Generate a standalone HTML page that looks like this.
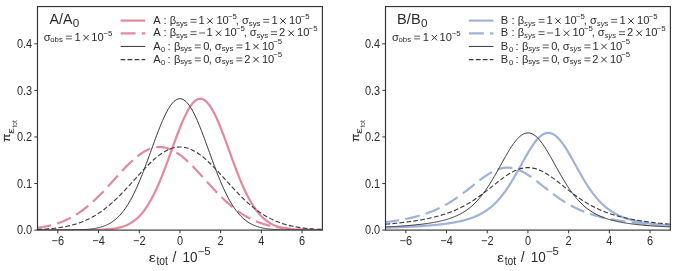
<!DOCTYPE html>
<html><head><meta charset="utf-8"><title>chart</title>
<style>html,body{margin:0;padding:0;background:#fff;overflow:hidden}body{width:677px;height:271px;font-family:"Liberation Sans",sans-serif}</style></head>
<body>
<svg width="677" height="271" viewBox="0 0 677 271" style="display:block" font-family="'Liberation Sans', sans-serif">
<rect width="677" height="271" fill="#ffffff"/>
<g style="mix-blend-mode:multiply"><rect width="1" height="1" fill="#ffffff"/></g>
<clipPath id="cp0"><rect x="37.5" y="6.55" width="284.9" height="223.54999999999998"/></clipPath>
<g clip-path="url(#cp0)" fill="none" stroke-linejoin="round">
<path d="M37.50,230.10 L38.52,230.10 L39.53,230.10 L40.55,230.10 L41.57,230.10 L42.59,230.10 L43.60,230.10 L44.62,230.10 L45.64,230.10 L46.66,230.10 L47.67,230.10 L48.69,230.10 L49.71,230.10 L50.73,230.10 L51.75,230.10 L52.76,230.10 L53.78,230.10 L54.80,230.10 L55.82,230.10 L56.83,230.10 L57.85,230.10 L58.87,230.10 L59.88,230.10 L60.90,230.10 L61.92,230.10 L62.94,230.10 L63.95,230.10 L64.97,230.10 L65.99,230.10 L67.01,230.10 L68.03,230.10 L69.04,230.10 L70.06,230.10 L71.08,230.09 L72.09,230.09 L73.11,230.09 L74.13,230.09 L75.15,230.09 L76.17,230.09 L77.18,230.09 L78.20,230.08 L79.22,230.08 L80.23,230.08 L81.25,230.07 L82.27,230.07 L83.29,230.07 L84.31,230.06 L85.32,230.06 L86.34,230.05 L87.36,230.04 L88.38,230.03 L89.39,230.02 L90.41,230.01 L91.43,230.00 L92.44,229.98 L93.46,229.97 L94.48,229.95 L95.50,229.93 L96.52,229.90 L97.53,229.88 L98.55,229.85 L99.57,229.81 L100.58,229.78 L101.60,229.73 L102.62,229.69 L103.64,229.63 L104.66,229.58 L105.67,229.51 L106.69,229.44 L107.71,229.36 L108.72,229.27 L109.74,229.17 L110.76,229.06 L111.78,228.94 L112.80,228.81 L113.81,228.66 L114.83,228.50 L115.85,228.33 L116.86,228.13 L117.88,227.92 L118.90,227.69 L119.92,227.44 L120.94,227.17 L121.95,226.87 L122.97,226.55 L123.99,226.19 L125.00,225.81 L126.02,225.40 L127.04,224.95 L128.06,224.47 L129.07,223.96 L130.09,223.40 L131.11,222.80 L132.13,222.16 L133.14,221.47 L134.16,220.73 L135.18,219.94 L136.20,219.10 L137.22,218.21 L138.23,217.26 L139.25,216.25 L140.27,215.18 L141.28,214.05 L142.30,212.86 L143.32,211.59 L144.34,210.26 L145.36,208.87 L146.37,207.40 L147.39,205.86 L148.41,204.25 L149.42,202.56 L150.44,200.80 L151.46,198.97 L152.48,197.07 L153.50,195.09 L154.51,193.04 L155.53,190.92 L156.55,188.73 L157.56,186.48 L158.58,184.15 L159.60,181.77 L160.62,179.32 L161.63,176.82 L162.65,174.26 L163.67,171.65 L164.69,169.00 L165.71,166.31 L166.72,163.58 L167.74,160.82 L168.76,158.04 L169.77,155.24 L170.79,152.43 L171.81,149.61 L172.83,146.80 L173.84,143.99 L174.86,141.20 L175.88,138.44 L176.90,135.71 L177.91,133.01 L178.93,130.37 L179.95,127.78 L180.97,125.26 L181.98,122.80 L183.00,120.43 L184.02,118.15 L185.04,115.96 L186.06,113.87 L187.07,111.89 L188.09,110.03 L189.11,108.29 L190.12,106.68 L191.14,105.21 L192.16,103.87 L193.18,102.68 L194.19,101.64 L195.21,100.76 L196.23,100.03 L197.25,99.46 L198.26,99.05 L199.28,98.80 L200.30,98.72 L201.32,98.80 L202.33,99.05 L203.35,99.46 L204.37,100.03 L205.39,100.76 L206.41,101.64 L207.42,102.68 L208.44,103.87 L209.46,105.21 L210.47,106.68 L211.49,108.29 L212.51,110.03 L213.53,111.89 L214.55,113.87 L215.56,115.96 L216.58,118.15 L217.60,120.43 L218.61,122.80 L219.63,125.26 L220.65,127.78 L221.67,130.37 L222.68,133.01 L223.70,135.71 L224.72,138.44 L225.74,141.20 L226.75,143.99 L227.77,146.80 L228.79,149.61 L229.81,152.43 L230.82,155.24 L231.84,158.04 L232.86,160.82 L233.88,163.58 L234.90,166.31 L235.91,169.00 L236.93,171.65 L237.95,174.26 L238.96,176.82 L239.98,179.32 L241.00,181.77 L242.02,184.15 L243.03,186.48 L244.05,188.73 L245.07,190.92 L246.09,193.04 L247.10,195.09 L248.12,197.07 L249.14,198.97 L250.16,200.80 L251.17,202.56 L252.19,204.25 L253.21,205.86 L254.23,207.40 L255.25,208.87 L256.26,210.26 L257.28,211.59 L258.30,212.86 L259.31,214.05 L260.33,215.18 L261.35,216.25 L262.37,217.26 L263.38,218.21 L264.40,219.10 L265.42,219.94 L266.44,220.73 L267.45,221.47 L268.47,222.16 L269.49,222.80 L270.51,223.40 L271.52,223.96 L272.54,224.47 L273.56,224.95 L274.58,225.40 L275.60,225.81 L276.61,226.19 L277.63,226.55 L278.65,226.87 L279.66,227.17 L280.68,227.44 L281.70,227.69 L282.72,227.92 L283.74,228.13 L284.75,228.33 L285.77,228.50 L286.79,228.66 L287.80,228.81 L288.82,228.94 L289.84,229.06 L290.86,229.17 L291.88,229.27 L292.89,229.36 L293.91,229.44 L294.93,229.51 L295.94,229.58 L296.96,229.63 L297.98,229.69 L299.00,229.73 L300.01,229.78 L301.03,229.81 L302.05,229.85 L303.07,229.88 L304.08,229.90 L305.10,229.93 L306.12,229.95 L307.14,229.97 L308.15,229.98 L309.17,230.00 L310.19,230.01 L311.21,230.02 L312.22,230.03 L313.24,230.04 L314.26,230.05 L315.28,230.06 L316.30,230.06 L317.31,230.07 L318.33,230.07 L319.35,230.07 L320.36,230.08 L321.38,230.08 L322.40,230.08" stroke="#E28A9C" stroke-width="2.2"/>
<path d="M37.50,227.83 L38.52,227.69 L39.53,227.54 L40.55,227.39 L41.57,227.23 L42.59,227.05 L43.60,226.87 L44.62,226.69 L45.64,226.49 L46.66,226.28 L47.67,226.07 L48.69,225.84 L49.71,225.60 L50.73,225.35 L51.75,225.09 L52.76,224.82 L53.78,224.54 L54.80,224.24 L55.82,223.93 L56.83,223.61 L57.85,223.28 L58.87,222.93 L59.88,222.57 L60.90,222.19 L61.92,221.80 L62.94,221.40 L63.95,220.98 L64.97,220.54 L65.99,220.09 L67.01,219.62 L68.03,219.13 L69.04,218.63 L70.06,218.11 L71.08,217.58 L72.09,217.02 L73.11,216.45 L74.13,215.86 L75.15,215.25 L76.17,214.63 L77.18,213.99 L78.20,213.32 L79.22,212.64 L80.23,211.94 L81.25,211.23 L82.27,210.49 L83.29,209.74 L84.31,208.96 L85.32,208.17 L86.34,207.36 L87.36,206.54 L88.38,205.69 L89.39,204.83 L90.41,203.95 L91.43,203.05 L92.44,202.14 L93.46,201.20 L94.48,200.26 L95.50,199.29 L96.52,198.32 L97.53,197.32 L98.55,196.32 L99.57,195.30 L100.58,194.26 L101.60,193.22 L102.62,192.16 L103.64,191.09 L104.66,190.02 L105.67,188.93 L106.69,187.84 L107.71,186.73 L108.72,185.62 L109.74,184.51 L110.76,183.39 L111.78,182.27 L112.80,181.14 L113.81,180.02 L114.83,178.89 L115.85,177.76 L116.86,176.64 L117.88,175.52 L118.90,174.40 L119.92,173.29 L120.94,172.19 L121.95,171.09 L122.97,170.00 L123.99,168.93 L125.00,167.86 L126.02,166.81 L127.04,165.78 L128.06,164.75 L129.07,163.75 L130.09,162.76 L131.11,161.80 L132.13,160.85 L133.14,159.93 L134.16,159.03 L135.18,158.15 L136.20,157.30 L137.22,156.48 L138.23,155.68 L139.25,154.92 L140.27,154.18 L141.28,153.47 L142.30,152.80 L143.32,152.16 L144.34,151.55 L145.36,150.98 L146.37,150.45 L147.39,149.95 L148.41,149.48 L149.42,149.06 L150.44,148.67 L151.46,148.33 L152.48,148.02 L153.50,147.75 L154.51,147.53 L155.53,147.34 L156.55,147.19 L157.56,147.09 L158.58,147.03 L159.60,147.01 L160.62,147.03 L161.63,147.09 L162.65,147.19 L163.67,147.34 L164.69,147.53 L165.71,147.75 L166.72,148.02 L167.74,148.33 L168.76,148.67 L169.77,149.06 L170.79,149.48 L171.81,149.95 L172.83,150.45 L173.84,150.98 L174.86,151.55 L175.88,152.16 L176.90,152.80 L177.91,153.47 L178.93,154.18 L179.95,154.92 L180.97,155.68 L181.98,156.48 L183.00,157.30 L184.02,158.15 L185.04,159.03 L186.06,159.93 L187.07,160.85 L188.09,161.80 L189.11,162.76 L190.12,163.75 L191.14,164.75 L192.16,165.78 L193.18,166.81 L194.19,167.86 L195.21,168.93 L196.23,170.00 L197.25,171.09 L198.26,172.19 L199.28,173.29 L200.30,174.40 L201.32,175.52 L202.33,176.64 L203.35,177.76 L204.37,178.89 L205.39,180.02 L206.41,181.14 L207.42,182.27 L208.44,183.39 L209.46,184.51 L210.47,185.62 L211.49,186.73 L212.51,187.84 L213.53,188.93 L214.55,190.02 L215.56,191.09 L216.58,192.16 L217.60,193.22 L218.61,194.26 L219.63,195.30 L220.65,196.32 L221.67,197.32 L222.68,198.32 L223.70,199.29 L224.72,200.26 L225.74,201.20 L226.75,202.14 L227.77,203.05 L228.79,203.95 L229.81,204.83 L230.82,205.69 L231.84,206.54 L232.86,207.36 L233.88,208.17 L234.90,208.96 L235.91,209.74 L236.93,210.49 L237.95,211.23 L238.96,211.94 L239.98,212.64 L241.00,213.32 L242.02,213.99 L243.03,214.63 L244.05,215.25 L245.07,215.86 L246.09,216.45 L247.10,217.02 L248.12,217.58 L249.14,218.11 L250.16,218.63 L251.17,219.13 L252.19,219.62 L253.21,220.09 L254.23,220.54 L255.25,220.98 L256.26,221.40 L257.28,221.80 L258.30,222.19 L259.31,222.57 L260.33,222.93 L261.35,223.28 L262.37,223.61 L263.38,223.93 L264.40,224.24 L265.42,224.54 L266.44,224.82 L267.45,225.09 L268.47,225.35 L269.49,225.60 L270.51,225.84 L271.52,226.07 L272.54,226.28 L273.56,226.49 L274.58,226.69 L275.60,226.87 L276.61,227.05 L277.63,227.23 L278.65,227.39 L279.66,227.54 L280.68,227.69 L281.70,227.83 L282.72,227.96 L283.74,228.09 L284.75,228.21 L285.77,228.32 L286.79,228.43 L287.80,228.53 L288.82,228.63 L289.84,228.72 L290.86,228.80 L291.88,228.88 L292.89,228.96 L293.91,229.03 L294.93,229.10 L295.94,229.17 L296.96,229.23 L297.98,229.28 L299.00,229.34 L300.01,229.39 L301.03,229.44 L302.05,229.48 L303.07,229.52 L304.08,229.56 L305.10,229.60 L306.12,229.63 L307.14,229.67 L308.15,229.70 L309.17,229.73 L310.19,229.75 L311.21,229.78 L312.22,229.80 L313.24,229.82 L314.26,229.84 L315.28,229.86 L316.30,229.88 L317.31,229.90 L318.33,229.91 L319.35,229.92 L320.36,229.94 L321.38,229.95 L322.40,229.96" stroke="#E28A9C" stroke-width="2.2" stroke-dasharray="15 6.2" stroke-dashoffset="1.2"/>
<path d="M37.50,230.10 L38.52,230.10 L39.53,230.10 L40.55,230.10 L41.57,230.10 L42.59,230.10 L43.60,230.10 L44.62,230.10 L45.64,230.10 L46.66,230.10 L47.67,230.10 L48.69,230.10 L49.71,230.10 L50.73,230.09 L51.75,230.09 L52.76,230.09 L53.78,230.09 L54.80,230.09 L55.82,230.09 L56.83,230.09 L57.85,230.08 L58.87,230.08 L59.88,230.08 L60.90,230.07 L61.92,230.07 L62.94,230.07 L63.95,230.06 L64.97,230.06 L65.99,230.05 L67.01,230.04 L68.03,230.03 L69.04,230.02 L70.06,230.01 L71.08,230.00 L72.09,229.98 L73.11,229.97 L74.13,229.95 L75.15,229.93 L76.17,229.90 L77.18,229.88 L78.20,229.85 L79.22,229.81 L80.23,229.78 L81.25,229.73 L82.27,229.69 L83.29,229.63 L84.31,229.58 L85.32,229.51 L86.34,229.44 L87.36,229.36 L88.38,229.27 L89.39,229.17 L90.41,229.06 L91.43,228.94 L92.44,228.81 L93.46,228.66 L94.48,228.50 L95.50,228.33 L96.52,228.13 L97.53,227.92 L98.55,227.69 L99.57,227.44 L100.58,227.17 L101.60,226.87 L102.62,226.55 L103.64,226.19 L104.66,225.81 L105.67,225.40 L106.69,224.95 L107.71,224.47 L108.72,223.96 L109.74,223.40 L110.76,222.80 L111.78,222.16 L112.80,221.47 L113.81,220.73 L114.83,219.94 L115.85,219.10 L116.86,218.21 L117.88,217.26 L118.90,216.25 L119.92,215.18 L120.94,214.05 L121.95,212.86 L122.97,211.59 L123.99,210.26 L125.00,208.87 L126.02,207.40 L127.04,205.86 L128.06,204.25 L129.07,202.56 L130.09,200.80 L131.11,198.97 L132.13,197.07 L133.14,195.09 L134.16,193.04 L135.18,190.92 L136.20,188.73 L137.22,186.48 L138.23,184.15 L139.25,181.77 L140.27,179.32 L141.28,176.82 L142.30,174.26 L143.32,171.65 L144.34,169.00 L145.36,166.31 L146.37,163.58 L147.39,160.82 L148.41,158.04 L149.42,155.24 L150.44,152.43 L151.46,149.61 L152.48,146.80 L153.50,143.99 L154.51,141.20 L155.53,138.44 L156.55,135.71 L157.56,133.01 L158.58,130.37 L159.60,127.78 L160.62,125.26 L161.63,122.80 L162.65,120.43 L163.67,118.15 L164.69,115.96 L165.71,113.87 L166.72,111.89 L167.74,110.03 L168.76,108.29 L169.77,106.68 L170.79,105.21 L171.81,103.87 L172.83,102.68 L173.84,101.64 L174.86,100.76 L175.88,100.03 L176.90,99.46 L177.91,99.05 L178.93,98.80 L179.95,98.72 L180.97,98.80 L181.98,99.05 L183.00,99.46 L184.02,100.03 L185.04,100.76 L186.06,101.64 L187.07,102.68 L188.09,103.87 L189.11,105.21 L190.12,106.68 L191.14,108.29 L192.16,110.03 L193.18,111.89 L194.19,113.87 L195.21,115.96 L196.23,118.15 L197.25,120.43 L198.26,122.80 L199.28,125.26 L200.30,127.78 L201.32,130.37 L202.33,133.01 L203.35,135.71 L204.37,138.44 L205.39,141.20 L206.41,143.99 L207.42,146.80 L208.44,149.61 L209.46,152.43 L210.47,155.24 L211.49,158.04 L212.51,160.82 L213.53,163.58 L214.55,166.31 L215.56,169.00 L216.58,171.65 L217.60,174.26 L218.61,176.82 L219.63,179.32 L220.65,181.77 L221.67,184.15 L222.68,186.48 L223.70,188.73 L224.72,190.92 L225.74,193.04 L226.75,195.09 L227.77,197.07 L228.79,198.97 L229.81,200.80 L230.82,202.56 L231.84,204.25 L232.86,205.86 L233.88,207.40 L234.90,208.87 L235.91,210.26 L236.93,211.59 L237.95,212.86 L238.96,214.05 L239.98,215.18 L241.00,216.25 L242.02,217.26 L243.03,218.21 L244.05,219.10 L245.07,219.94 L246.09,220.73 L247.10,221.47 L248.12,222.16 L249.14,222.80 L250.16,223.40 L251.17,223.96 L252.19,224.47 L253.21,224.95 L254.23,225.40 L255.25,225.81 L256.26,226.19 L257.28,226.55 L258.30,226.87 L259.31,227.17 L260.33,227.44 L261.35,227.69 L262.37,227.92 L263.38,228.13 L264.40,228.33 L265.42,228.50 L266.44,228.66 L267.45,228.81 L268.47,228.94 L269.49,229.06 L270.51,229.17 L271.52,229.27 L272.54,229.36 L273.56,229.44 L274.58,229.51 L275.60,229.58 L276.61,229.63 L277.63,229.69 L278.65,229.73 L279.66,229.78 L280.68,229.81 L281.70,229.85 L282.72,229.88 L283.74,229.90 L284.75,229.93 L285.77,229.95 L286.79,229.97 L287.80,229.98 L288.82,230.00 L289.84,230.01 L290.86,230.02 L291.88,230.03 L292.89,230.04 L293.91,230.05 L294.93,230.06 L295.94,230.06 L296.96,230.07 L297.98,230.07 L299.00,230.07 L300.01,230.08 L301.03,230.08 L302.05,230.08 L303.07,230.09 L304.08,230.09 L305.10,230.09 L306.12,230.09 L307.14,230.09 L308.15,230.09 L309.17,230.09 L310.19,230.10 L311.21,230.10 L312.22,230.10 L313.24,230.10 L314.26,230.10 L315.28,230.10 L316.30,230.10 L317.31,230.10 L318.33,230.10 L319.35,230.10 L320.36,230.10 L321.38,230.10 L322.40,230.10" stroke="#383838" stroke-width="1.0"/>
<path d="M37.50,229.48 L38.52,229.44 L39.53,229.39 L40.55,229.34 L41.57,229.28 L42.59,229.23 L43.60,229.17 L44.62,229.10 L45.64,229.03 L46.66,228.96 L47.67,228.88 L48.69,228.80 L49.71,228.72 L50.73,228.63 L51.75,228.53 L52.76,228.43 L53.78,228.32 L54.80,228.21 L55.82,228.09 L56.83,227.96 L57.85,227.83 L58.87,227.69 L59.88,227.54 L60.90,227.39 L61.92,227.23 L62.94,227.05 L63.95,226.87 L64.97,226.69 L65.99,226.49 L67.01,226.28 L68.03,226.07 L69.04,225.84 L70.06,225.60 L71.08,225.35 L72.09,225.09 L73.11,224.82 L74.13,224.54 L75.15,224.24 L76.17,223.93 L77.18,223.61 L78.20,223.28 L79.22,222.93 L80.23,222.57 L81.25,222.19 L82.27,221.80 L83.29,221.40 L84.31,220.98 L85.32,220.54 L86.34,220.09 L87.36,219.62 L88.38,219.13 L89.39,218.63 L90.41,218.11 L91.43,217.58 L92.44,217.02 L93.46,216.45 L94.48,215.86 L95.50,215.25 L96.52,214.63 L97.53,213.99 L98.55,213.32 L99.57,212.64 L100.58,211.94 L101.60,211.23 L102.62,210.49 L103.64,209.74 L104.66,208.96 L105.67,208.17 L106.69,207.36 L107.71,206.54 L108.72,205.69 L109.74,204.83 L110.76,203.95 L111.78,203.05 L112.80,202.14 L113.81,201.20 L114.83,200.26 L115.85,199.29 L116.86,198.32 L117.88,197.32 L118.90,196.32 L119.92,195.30 L120.94,194.26 L121.95,193.22 L122.97,192.16 L123.99,191.09 L125.00,190.02 L126.02,188.93 L127.04,187.84 L128.06,186.73 L129.07,185.62 L130.09,184.51 L131.11,183.39 L132.13,182.27 L133.14,181.14 L134.16,180.02 L135.18,178.89 L136.20,177.76 L137.22,176.64 L138.23,175.52 L139.25,174.40 L140.27,173.29 L141.28,172.19 L142.30,171.09 L143.32,170.00 L144.34,168.93 L145.36,167.86 L146.37,166.81 L147.39,165.78 L148.41,164.75 L149.42,163.75 L150.44,162.76 L151.46,161.80 L152.48,160.85 L153.50,159.93 L154.51,159.03 L155.53,158.15 L156.55,157.30 L157.56,156.48 L158.58,155.68 L159.60,154.92 L160.62,154.18 L161.63,153.47 L162.65,152.80 L163.67,152.16 L164.69,151.55 L165.71,150.98 L166.72,150.45 L167.74,149.95 L168.76,149.48 L169.77,149.06 L170.79,148.67 L171.81,148.33 L172.83,148.02 L173.84,147.75 L174.86,147.53 L175.88,147.34 L176.90,147.19 L177.91,147.09 L178.93,147.03 L179.95,147.01 L180.97,147.03 L181.98,147.09 L183.00,147.19 L184.02,147.34 L185.04,147.53 L186.06,147.75 L187.07,148.02 L188.09,148.33 L189.11,148.67 L190.12,149.06 L191.14,149.48 L192.16,149.95 L193.18,150.45 L194.19,150.98 L195.21,151.55 L196.23,152.16 L197.25,152.80 L198.26,153.47 L199.28,154.18 L200.30,154.92 L201.32,155.68 L202.33,156.48 L203.35,157.30 L204.37,158.15 L205.39,159.03 L206.41,159.93 L207.42,160.85 L208.44,161.80 L209.46,162.76 L210.47,163.75 L211.49,164.75 L212.51,165.78 L213.53,166.81 L214.55,167.86 L215.56,168.93 L216.58,170.00 L217.60,171.09 L218.61,172.19 L219.63,173.29 L220.65,174.40 L221.67,175.52 L222.68,176.64 L223.70,177.76 L224.72,178.89 L225.74,180.02 L226.75,181.14 L227.77,182.27 L228.79,183.39 L229.81,184.51 L230.82,185.62 L231.84,186.73 L232.86,187.84 L233.88,188.93 L234.90,190.02 L235.91,191.09 L236.93,192.16 L237.95,193.22 L238.96,194.26 L239.98,195.30 L241.00,196.32 L242.02,197.32 L243.03,198.32 L244.05,199.29 L245.07,200.26 L246.09,201.20 L247.10,202.14 L248.12,203.05 L249.14,203.95 L250.16,204.83 L251.17,205.69 L252.19,206.54 L253.21,207.36 L254.23,208.17 L255.25,208.96 L256.26,209.74 L257.28,210.49 L258.30,211.23 L259.31,211.94 L260.33,212.64 L261.35,213.32 L262.37,213.99 L263.38,214.63 L264.40,215.25 L265.42,215.86 L266.44,216.45 L267.45,217.02 L268.47,217.58 L269.49,218.11 L270.51,218.63 L271.52,219.13 L272.54,219.62 L273.56,220.09 L274.58,220.54 L275.60,220.98 L276.61,221.40 L277.63,221.80 L278.65,222.19 L279.66,222.57 L280.68,222.93 L281.70,223.28 L282.72,223.61 L283.74,223.93 L284.75,224.24 L285.77,224.54 L286.79,224.82 L287.80,225.09 L288.82,225.35 L289.84,225.60 L290.86,225.84 L291.88,226.07 L292.89,226.28 L293.91,226.49 L294.93,226.69 L295.94,226.87 L296.96,227.05 L297.98,227.23 L299.00,227.39 L300.01,227.54 L301.03,227.69 L302.05,227.83 L303.07,227.96 L304.08,228.09 L305.10,228.21 L306.12,228.32 L307.14,228.43 L308.15,228.53 L309.17,228.63 L310.19,228.72 L311.21,228.80 L312.22,228.88 L313.24,228.96 L314.26,229.03 L315.28,229.10 L316.30,229.17 L317.31,229.23 L318.33,229.28 L319.35,229.34 L320.36,229.39 L321.38,229.44 L322.40,229.48" stroke="#383838" stroke-width="1.1" stroke-dasharray="4.7 2.3"/>
</g>
<rect x="37.5" y="6.55" width="284.9" height="223.54999999999998" fill="none" stroke="#333333" stroke-width="1.15"/>
<line x1="57.85" x2="57.85" y1="230.1" y2="233.29999999999998" stroke="#333333" stroke-width="1"/>
<text transform="translate(57.85,244.7) scale(0.93,1.04)" font-size="11.8" fill="#2b2b2b" text-anchor="middle">−6</text>
<line x1="98.55" x2="98.55" y1="230.1" y2="233.29999999999998" stroke="#333333" stroke-width="1"/>
<text transform="translate(98.55,244.7) scale(0.93,1.04)" font-size="11.8" fill="#2b2b2b" text-anchor="middle">−4</text>
<line x1="139.25" x2="139.25" y1="230.1" y2="233.29999999999998" stroke="#333333" stroke-width="1"/>
<text transform="translate(139.25,244.7) scale(0.93,1.04)" font-size="11.8" fill="#2b2b2b" text-anchor="middle">−2</text>
<line x1="179.95" x2="179.95" y1="230.1" y2="233.29999999999998" stroke="#333333" stroke-width="1"/>
<text transform="translate(179.95,244.7) scale(0.93,1.04)" font-size="11.8" fill="#2b2b2b" text-anchor="middle">0</text>
<line x1="220.65" x2="220.65" y1="230.1" y2="233.29999999999998" stroke="#333333" stroke-width="1"/>
<text transform="translate(220.65,244.7) scale(0.93,1.04)" font-size="11.8" fill="#2b2b2b" text-anchor="middle">2</text>
<line x1="261.35" x2="261.35" y1="230.1" y2="233.29999999999998" stroke="#333333" stroke-width="1"/>
<text transform="translate(261.35,244.7) scale(0.93,1.04)" font-size="11.8" fill="#2b2b2b" text-anchor="middle">4</text>
<line x1="302.05" x2="302.05" y1="230.1" y2="233.29999999999998" stroke="#333333" stroke-width="1"/>
<text transform="translate(302.05,244.7) scale(0.93,1.04)" font-size="11.8" fill="#2b2b2b" text-anchor="middle">6</text>
<line x1="34.3" x2="37.5" y1="230.10" y2="230.10" stroke="#333333" stroke-width="1"/>
<text transform="translate(32.15,234.45) scale(0.93,1.04)" font-size="11.8" fill="#2b2b2b" text-anchor="end">0.0</text>
<line x1="34.3" x2="37.5" y1="183.53" y2="183.53" stroke="#333333" stroke-width="1"/>
<text transform="translate(32.15,187.88) scale(0.93,1.04)" font-size="11.8" fill="#2b2b2b" text-anchor="end">0.1</text>
<line x1="34.3" x2="37.5" y1="136.95" y2="136.95" stroke="#333333" stroke-width="1"/>
<text transform="translate(32.15,141.30) scale(0.93,1.04)" font-size="11.8" fill="#2b2b2b" text-anchor="end">0.2</text>
<line x1="34.3" x2="37.5" y1="90.38" y2="90.38" stroke="#333333" stroke-width="1"/>
<text transform="translate(32.15,94.73) scale(0.93,1.04)" font-size="11.8" fill="#2b2b2b" text-anchor="end">0.3</text>
<line x1="34.3" x2="37.5" y1="43.81" y2="43.81" stroke="#333333" stroke-width="1"/>
<text transform="translate(32.15,48.16) scale(0.93,1.04)" font-size="11.8" fill="#2b2b2b" text-anchor="end">0.4</text>
<text transform="translate(148.72,261.80) scale(1.2,1.0)" font-size="13.3" fill="#2b2b2b">ε</text>
<text transform="translate(156.49,265.10) scale(0.88,1.08)" font-size="11.7" fill="#2b2b2b">tot</text>
<text transform="translate(172.40,261.90) scale(1.0,1.03)" font-size="13.89" fill="#2b2b2b">/</text>
<text transform="translate(182.42,261.90) scale(0.97,1.06)" font-size="13.89" fill="#2b2b2b">10</text>
<text transform="translate(204.25,254.80) scale(1.05,1.0)" font-size="10.8" fill="#2b2b2b">5</text>
<path d="M198.40,251.66 h5.83" stroke="#2b2b2b" stroke-width="0.76" fill="none"/>
<g transform="translate(10.30,141.6) rotate(-90)">
<text x="-0.16" y="0.00" font-size="11.6" fill="#2b2b2b" stroke="#2b2b2b" stroke-width="0.3">π</text>
<text transform="translate(7.59,3.80) scale(1.6,1.0)" font-size="8.5" fill="#2b2b2b">ε</text>
<text x="14.17" y="6.50" font-size="6.4" fill="#2b2b2b">tot</text>
</g>
<text transform="translate(49.60,23.80) scale(1.0,1.08)" font-size="14.2" fill="#2b2b2b">A/A</text>
<text x="72.73" y="26.90" font-size="11.7" fill="#2b2b2b">0</text>
<text x="43.66" y="40.70" font-size="11.11" fill="#2b2b2b">σ</text>
<text x="50.29" y="42.30" font-size="7.78" fill="#2b2b2b">obs</text>
<path d="M65.90,38.87 h6.00 M65.90,36.14 h6.00" stroke="#2b2b2b" stroke-width="0.78" fill="none"/>
<text x="74.61" y="40.70" font-size="11.11" fill="#2b2b2b">1</text>
<path d="M83.40,34.92 L88.84,40.37 M83.40,40.37 L88.84,34.92" stroke="#2b2b2b" stroke-width="0.98" fill="none"/>
<text x="91.21" y="40.70" font-size="11.11" fill="#2b2b2b">10</text>
<text x="103.51" y="35.50" font-size="7.78" fill="#2b2b2b">−5</text>
<line x1="120.60" x2="145.20" y1="20.6" y2="20.6" stroke="#E28A9C" stroke-width="2.2"/>
<line x1="120.60" x2="145.20" y1="33.4" y2="33.4" stroke="#E28A9C" stroke-width="2.2" stroke-dasharray="15 6.2"/>
<line x1="120.60" x2="145.20" y1="46.45" y2="46.45" stroke="#383838" stroke-width="1.0"/>
<line x1="120.60" x2="145.20" y1="59.6" y2="59.6" stroke="#383838" stroke-width="1.1" stroke-dasharray="4.7 2.3"/>
<text x="153.30" y="24.00" font-size="11.11" fill="#2b2b2b">A</text>
<text x="163.60" y="24.00" font-size="11.11" fill="#2b2b2b">:</text>
<text x="169.82" y="24.00" font-size="11.11" fill="#2b2b2b">β</text>
<text x="176.07" y="25.60" font-size="7.78" fill="#2b2b2b">sys</text>
<path d="M190.50,22.17 h6.00 M190.50,19.44 h6.00" stroke="#2b2b2b" stroke-width="0.78" fill="none"/>
<text x="198.51" y="24.00" font-size="11.11" fill="#2b2b2b">1</text>
<path d="M207.20,18.22 L212.64,23.67 M207.20,23.67 L212.64,18.22" stroke="#2b2b2b" stroke-width="0.98" fill="none"/>
<text x="216.41" y="24.00" font-size="11.11" fill="#2b2b2b">10</text>
<text x="228.01" y="18.80" font-size="7.78" fill="#2b2b2b">−5</text>
<text x="235.70" y="24.00" font-size="11.11" fill="#2b2b2b">,</text>
<text x="241.96" y="24.00" font-size="11.11" fill="#2b2b2b">σ</text>
<text x="248.77" y="25.60" font-size="7.78" fill="#2b2b2b">sys</text>
<path d="M263.20,22.17 h6.00 M263.20,19.44 h6.00" stroke="#2b2b2b" stroke-width="0.78" fill="none"/>
<text x="271.61" y="24.00" font-size="11.11" fill="#2b2b2b">1</text>
<path d="M280.20,18.22 L285.64,23.67 M280.20,23.67 L285.64,18.22" stroke="#2b2b2b" stroke-width="0.98" fill="none"/>
<text x="289.11" y="24.00" font-size="11.11" fill="#2b2b2b">10</text>
<text x="300.61" y="18.80" font-size="7.78" fill="#2b2b2b">−5</text>
<text x="153.30" y="36.30" font-size="11.11" fill="#2b2b2b">A</text>
<text x="163.60" y="36.30" font-size="11.11" fill="#2b2b2b">:</text>
<text x="169.82" y="36.30" font-size="11.11" fill="#2b2b2b">β</text>
<text x="176.07" y="37.90" font-size="7.78" fill="#2b2b2b">sys</text>
<path d="M190.50,34.47 h6.00 M190.50,31.74 h6.00" stroke="#2b2b2b" stroke-width="0.78" fill="none"/>
<path d="M199.10,32.97 h6.00" stroke="#2b2b2b" stroke-width="0.78" fill="none"/>
<text x="206.61" y="36.30" font-size="11.11" fill="#2b2b2b">1</text>
<path d="M215.80,30.52 L221.24,35.97 M215.80,35.97 L221.24,30.52" stroke="#2b2b2b" stroke-width="0.98" fill="none"/>
<text x="224.41" y="36.30" font-size="11.11" fill="#2b2b2b">10</text>
<text x="235.91" y="31.10" font-size="7.78" fill="#2b2b2b">−5</text>
<text x="243.70" y="36.30" font-size="11.11" fill="#2b2b2b">,</text>
<text x="249.66" y="36.30" font-size="11.11" fill="#2b2b2b">σ</text>
<text x="256.47" y="37.90" font-size="7.78" fill="#2b2b2b">sys</text>
<path d="M271.00,34.47 h6.00 M271.00,31.74 h6.00" stroke="#2b2b2b" stroke-width="0.78" fill="none"/>
<text x="278.94" y="36.30" font-size="11.11" fill="#2b2b2b">2</text>
<path d="M288.50,30.52 L293.94,35.97 M288.50,35.97 L293.94,30.52" stroke="#2b2b2b" stroke-width="0.98" fill="none"/>
<text x="297.11" y="36.30" font-size="11.11" fill="#2b2b2b">10</text>
<text x="308.61" y="31.10" font-size="7.78" fill="#2b2b2b">−5</text>
<text x="153.30" y="49.60" font-size="11.11" fill="#2b2b2b">A</text>
<text x="161.09" y="52.40" font-size="7.78" fill="#2b2b2b">0</text>
<text x="167.60" y="49.60" font-size="11.11" fill="#2b2b2b">:</text>
<text x="173.92" y="49.60" font-size="11.11" fill="#2b2b2b">β</text>
<text x="180.17" y="51.20" font-size="7.78" fill="#2b2b2b">sys</text>
<path d="M194.80,47.77 h6.00 M194.80,45.04 h6.00" stroke="#2b2b2b" stroke-width="0.78" fill="none"/>
<text x="203.36" y="49.60" font-size="11.11" fill="#2b2b2b">0</text>
<text x="208.70" y="49.60" font-size="11.11" fill="#2b2b2b">,</text>
<text x="214.66" y="49.60" font-size="11.11" fill="#2b2b2b">σ</text>
<text x="221.67" y="51.20" font-size="7.78" fill="#2b2b2b">sys</text>
<path d="M236.40,47.77 h6.00 M236.40,45.04 h6.00" stroke="#2b2b2b" stroke-width="0.78" fill="none"/>
<text x="244.41" y="49.60" font-size="11.11" fill="#2b2b2b">1</text>
<path d="M253.30,43.82 L258.74,49.27 M253.30,49.27 L258.74,43.82" stroke="#2b2b2b" stroke-width="0.98" fill="none"/>
<text x="261.91" y="49.60" font-size="11.11" fill="#2b2b2b">10</text>
<text x="273.31" y="44.40" font-size="7.78" fill="#2b2b2b">−5</text>
<text x="153.30" y="62.60" font-size="11.11" fill="#2b2b2b">A</text>
<text x="161.09" y="65.40" font-size="7.78" fill="#2b2b2b">0</text>
<text x="167.60" y="62.60" font-size="11.11" fill="#2b2b2b">:</text>
<text x="173.92" y="62.60" font-size="11.11" fill="#2b2b2b">β</text>
<text x="180.17" y="64.20" font-size="7.78" fill="#2b2b2b">sys</text>
<path d="M194.80,60.77 h6.00 M194.80,58.04 h6.00" stroke="#2b2b2b" stroke-width="0.78" fill="none"/>
<text x="203.36" y="62.60" font-size="11.11" fill="#2b2b2b">0</text>
<text x="208.70" y="62.60" font-size="11.11" fill="#2b2b2b">,</text>
<text x="214.66" y="62.60" font-size="11.11" fill="#2b2b2b">σ</text>
<text x="221.67" y="64.20" font-size="7.78" fill="#2b2b2b">sys</text>
<path d="M236.40,60.77 h6.00 M236.40,58.04 h6.00" stroke="#2b2b2b" stroke-width="0.78" fill="none"/>
<text x="244.34" y="62.60" font-size="11.11" fill="#2b2b2b">2</text>
<path d="M253.30,56.82 L258.74,62.27 M253.30,62.27 L258.74,56.82" stroke="#2b2b2b" stroke-width="0.98" fill="none"/>
<text x="261.91" y="62.60" font-size="11.11" fill="#2b2b2b">10</text>
<text x="273.31" y="57.40" font-size="7.78" fill="#2b2b2b">−5</text>
<clipPath id="cp1"><rect x="385.5" y="6.55" width="284.9" height="223.54999999999998"/></clipPath>
<g clip-path="url(#cp1)" fill="none" stroke-linejoin="round">
<path d="M385.50,227.71 L386.52,227.68 L387.53,227.64 L388.55,227.61 L389.57,227.58 L390.59,227.55 L391.61,227.51 L392.62,227.48 L393.64,227.44 L394.66,227.40 L395.68,227.37 L396.69,227.33 L397.71,227.29 L398.73,227.25 L399.75,227.21 L400.76,227.17 L401.78,227.12 L402.80,227.08 L403.81,227.04 L404.83,226.99 L405.85,226.94 L406.87,226.90 L407.88,226.85 L408.90,226.80 L409.92,226.75 L410.94,226.69 L411.95,226.64 L412.97,226.59 L413.99,226.53 L415.01,226.47 L416.02,226.41 L417.04,226.35 L418.06,226.29 L419.08,226.23 L420.10,226.16 L421.11,226.09 L422.13,226.03 L423.15,225.96 L424.17,225.88 L425.18,225.81 L426.20,225.73 L427.22,225.65 L428.24,225.57 L429.25,225.49 L430.27,225.41 L431.29,225.32 L432.31,225.23 L433.32,225.14 L434.34,225.04 L435.36,224.94 L436.38,224.84 L437.39,224.74 L438.41,224.63 L439.43,224.52 L440.44,224.40 L441.46,224.28 L442.48,224.16 L443.50,224.04 L444.51,223.91 L445.53,223.77 L446.55,223.63 L447.57,223.49 L448.58,223.34 L449.60,223.19 L450.62,223.03 L451.64,222.86 L452.65,222.69 L453.67,222.52 L454.69,222.33 L455.71,222.14 L456.73,221.94 L457.74,221.74 L458.76,221.52 L459.78,221.30 L460.80,221.07 L461.81,220.83 L462.83,220.58 L463.85,220.32 L464.87,220.05 L465.88,219.77 L466.90,219.48 L467.92,219.17 L468.94,218.85 L469.95,218.52 L470.97,218.17 L471.99,217.80 L473.00,217.42 L474.02,217.03 L475.04,216.61 L476.06,216.18 L477.07,215.73 L478.09,215.25 L479.11,214.76 L480.13,214.24 L481.14,213.70 L482.16,213.13 L483.18,212.54 L484.20,211.92 L485.22,211.28 L486.23,210.60 L487.25,209.89 L488.27,209.16 L489.28,208.38 L490.30,207.58 L491.32,206.74 L492.34,205.86 L493.36,204.95 L494.37,204.00 L495.39,203.01 L496.41,201.98 L497.42,200.91 L498.44,199.79 L499.46,198.64 L500.48,197.44 L501.50,196.20 L502.51,194.91 L503.53,193.59 L504.55,192.22 L505.56,190.80 L506.58,189.35 L507.60,187.85 L508.62,186.32 L509.63,184.74 L510.65,183.13 L511.67,181.48 L512.69,179.80 L513.71,178.09 L514.72,176.35 L515.74,174.58 L516.76,172.79 L517.77,170.99 L518.79,169.17 L519.81,167.34 L520.83,165.50 L521.85,163.66 L522.86,161.83 L523.88,160.00 L524.90,158.19 L525.91,156.39 L526.93,154.62 L527.95,152.88 L528.97,151.18 L529.99,149.52 L531.00,147.91 L532.02,146.35 L533.04,144.86 L534.06,143.42 L535.07,142.06 L536.09,140.78 L537.11,139.57 L538.12,138.46 L539.14,137.43 L540.16,136.50 L541.18,135.67 L542.19,134.95 L543.21,134.33 L544.23,133.82 L545.25,133.42 L546.26,133.13 L547.28,132.96 L548.30,132.90 L549.32,132.96 L550.34,133.13 L551.35,133.42 L552.37,133.82 L553.39,134.33 L554.40,134.95 L555.42,135.67 L556.44,136.50 L557.46,137.43 L558.48,138.46 L559.49,139.57 L560.51,140.78 L561.53,142.06 L562.55,143.42 L563.56,144.86 L564.58,146.35 L565.60,147.91 L566.62,149.52 L567.63,151.18 L568.65,152.88 L569.67,154.62 L570.68,156.39 L571.70,158.19 L572.72,160.00 L573.74,161.83 L574.75,163.66 L575.77,165.50 L576.79,167.34 L577.81,169.17 L578.83,170.99 L579.84,172.79 L580.86,174.58 L581.88,176.35 L582.89,178.09 L583.91,179.80 L584.93,181.48 L585.95,183.13 L586.96,184.74 L587.98,186.32 L589.00,187.85 L590.02,189.35 L591.03,190.80 L592.05,192.22 L593.07,193.59 L594.09,194.91 L595.11,196.20 L596.12,197.44 L597.14,198.64 L598.16,199.79 L599.17,200.91 L600.19,201.98 L601.21,203.01 L602.23,204.00 L603.25,204.95 L604.26,205.86 L605.28,206.74 L606.30,207.58 L607.32,208.38 L608.33,209.16 L609.35,209.89 L610.37,210.60 L611.38,211.28 L612.40,211.92 L613.42,212.54 L614.44,213.13 L615.45,213.70 L616.47,214.24 L617.49,214.76 L618.51,215.25 L619.52,215.73 L620.54,216.18 L621.56,216.61 L622.58,217.03 L623.60,217.42 L624.61,217.80 L625.63,218.17 L626.65,218.52 L627.66,218.85 L628.68,219.17 L629.70,219.48 L630.72,219.77 L631.74,220.05 L632.75,220.32 L633.77,220.58 L634.79,220.83 L635.80,221.07 L636.82,221.30 L637.84,221.52 L638.86,221.74 L639.88,221.94 L640.89,222.14 L641.91,222.33 L642.93,222.52 L643.94,222.69 L644.96,222.86 L645.98,223.03 L647.00,223.19 L648.01,223.34 L649.03,223.49 L650.05,223.63 L651.07,223.77 L652.09,223.91 L653.10,224.04 L654.12,224.16 L655.14,224.28 L656.15,224.40 L657.17,224.52 L658.19,224.63 L659.21,224.74 L660.22,224.84 L661.24,224.94 L662.26,225.04 L663.28,225.14 L664.30,225.23 L665.31,225.32 L666.33,225.41 L667.35,225.49 L668.37,225.57 L669.38,225.65 L670.40,225.73" stroke="#A0B2D8" stroke-width="2.2"/>
<path d="M385.50,222.16 L386.52,222.03 L387.53,221.90 L388.55,221.77 L389.57,221.63 L390.59,221.49 L391.61,221.34 L392.62,221.20 L393.64,221.05 L394.66,220.89 L395.68,220.73 L396.69,220.57 L397.71,220.41 L398.73,220.24 L399.75,220.06 L400.76,219.88 L401.78,219.70 L402.80,219.51 L403.81,219.32 L404.83,219.12 L405.85,218.92 L406.87,218.71 L407.88,218.49 L408.90,218.27 L409.92,218.05 L410.94,217.82 L411.95,217.58 L412.97,217.33 L413.99,217.08 L415.01,216.83 L416.02,216.56 L417.04,216.29 L418.06,216.01 L419.08,215.73 L420.10,215.43 L421.11,215.13 L422.13,214.82 L423.15,214.50 L424.17,214.18 L425.18,213.84 L426.20,213.49 L427.22,213.14 L428.24,212.78 L429.25,212.40 L430.27,212.02 L431.29,211.62 L432.31,211.22 L433.32,210.80 L434.34,210.37 L435.36,209.94 L436.38,209.49 L437.39,209.03 L438.41,208.55 L439.43,208.07 L440.44,207.57 L441.46,207.06 L442.48,206.54 L443.50,206.00 L444.51,205.46 L445.53,204.90 L446.55,204.32 L447.57,203.74 L448.58,203.14 L449.60,202.53 L450.62,201.90 L451.64,201.26 L452.65,200.61 L453.67,199.95 L454.69,199.27 L455.71,198.58 L456.73,197.88 L457.74,197.17 L458.76,196.45 L459.78,195.72 L460.80,194.97 L461.81,194.22 L462.83,193.46 L463.85,192.69 L464.87,191.91 L465.88,191.12 L466.90,190.33 L467.92,189.53 L468.94,188.73 L469.95,187.92 L470.97,187.12 L471.99,186.31 L473.00,185.50 L474.02,184.69 L475.04,183.88 L476.06,183.08 L477.07,182.28 L478.09,181.48 L479.11,180.70 L480.13,179.92 L481.14,179.16 L482.16,178.40 L483.18,177.66 L484.20,176.94 L485.22,176.23 L486.23,175.54 L487.25,174.87 L488.27,174.22 L489.28,173.59 L490.30,172.99 L491.32,172.42 L492.34,171.87 L493.36,171.34 L494.37,170.85 L495.39,170.39 L496.41,169.96 L497.42,169.57 L498.44,169.21 L499.46,168.88 L500.48,168.59 L501.50,168.34 L502.51,168.13 L503.53,167.95 L504.55,167.81 L505.56,167.71 L506.58,167.65 L507.60,167.63 L508.62,167.65 L509.63,167.71 L510.65,167.81 L511.67,167.95 L512.69,168.13 L513.71,168.34 L514.72,168.59 L515.74,168.88 L516.76,169.21 L517.77,169.57 L518.79,169.96 L519.81,170.39 L520.83,170.85 L521.85,171.34 L522.86,171.87 L523.88,172.42 L524.90,172.99 L525.91,173.59 L526.93,174.22 L527.95,174.87 L528.97,175.54 L529.99,176.23 L531.00,176.94 L532.02,177.66 L533.04,178.40 L534.06,179.16 L535.07,179.92 L536.09,180.70 L537.11,181.48 L538.12,182.28 L539.14,183.08 L540.16,183.88 L541.18,184.69 L542.19,185.50 L543.21,186.31 L544.23,187.12 L545.25,187.92 L546.26,188.73 L547.28,189.53 L548.30,190.33 L549.32,191.12 L550.34,191.91 L551.35,192.69 L552.37,193.46 L553.39,194.22 L554.40,194.97 L555.42,195.72 L556.44,196.45 L557.46,197.17 L558.48,197.88 L559.49,198.58 L560.51,199.27 L561.53,199.95 L562.55,200.61 L563.56,201.26 L564.58,201.90 L565.60,202.53 L566.62,203.14 L567.63,203.74 L568.65,204.32 L569.67,204.90 L570.68,205.46 L571.70,206.00 L572.72,206.54 L573.74,207.06 L574.75,207.57 L575.77,208.07 L576.79,208.55 L577.81,209.03 L578.83,209.49 L579.84,209.94 L580.86,210.37 L581.88,210.80 L582.89,211.22 L583.91,211.62 L584.93,212.02 L585.95,212.40 L586.96,212.78 L587.98,213.14 L589.00,213.49 L590.02,213.84 L591.03,214.18 L592.05,214.50 L593.07,214.82 L594.09,215.13 L595.11,215.43 L596.12,215.73 L597.14,216.01 L598.16,216.29 L599.17,216.56 L600.19,216.83 L601.21,217.08 L602.23,217.33 L603.25,217.58 L604.26,217.82 L605.28,218.05 L606.30,218.27 L607.32,218.49 L608.33,218.71 L609.35,218.92 L610.37,219.12 L611.38,219.32 L612.40,219.51 L613.42,219.70 L614.44,219.88 L615.45,220.06 L616.47,220.24 L617.49,220.41 L618.51,220.57 L619.52,220.73 L620.54,220.89 L621.56,221.05 L622.58,221.20 L623.60,221.34 L624.61,221.49 L625.63,221.63 L626.65,221.77 L627.66,221.90 L628.68,222.03 L629.70,222.16 L630.72,222.28 L631.74,222.40 L632.75,222.52 L633.77,222.64 L634.79,222.75 L635.80,222.87 L636.82,222.97 L637.84,223.08 L638.86,223.19 L639.88,223.29 L640.89,223.39 L641.91,223.49 L642.93,223.58 L643.94,223.67 L644.96,223.77 L645.98,223.86 L647.00,223.94 L648.01,224.03 L649.03,224.11 L650.05,224.20 L651.07,224.28 L652.09,224.36 L653.10,224.44 L654.12,224.51 L655.14,224.59 L656.15,224.66 L657.17,224.73 L658.19,224.80 L659.21,224.87 L660.22,224.94 L661.24,225.01 L662.26,225.07 L663.28,225.13 L664.30,225.20 L665.31,225.26 L666.33,225.32 L667.35,225.38 L668.37,225.44 L669.38,225.49 L670.40,225.55" stroke="#A0B2D8" stroke-width="2.2" stroke-dasharray="15 6.2" stroke-dashoffset="1.2"/>
<path d="M385.50,226.94 L386.52,226.90 L387.53,226.85 L388.55,226.80 L389.57,226.75 L390.59,226.69 L391.61,226.64 L392.62,226.59 L393.64,226.53 L394.66,226.47 L395.68,226.41 L396.69,226.35 L397.71,226.29 L398.73,226.23 L399.75,226.16 L400.76,226.09 L401.78,226.03 L402.80,225.96 L403.81,225.88 L404.83,225.81 L405.85,225.73 L406.87,225.65 L407.88,225.57 L408.90,225.49 L409.92,225.41 L410.94,225.32 L411.95,225.23 L412.97,225.14 L413.99,225.04 L415.01,224.94 L416.02,224.84 L417.04,224.74 L418.06,224.63 L419.08,224.52 L420.10,224.40 L421.11,224.28 L422.13,224.16 L423.15,224.04 L424.17,223.91 L425.18,223.77 L426.20,223.63 L427.22,223.49 L428.24,223.34 L429.25,223.19 L430.27,223.03 L431.29,222.86 L432.31,222.69 L433.32,222.52 L434.34,222.33 L435.36,222.14 L436.38,221.94 L437.39,221.74 L438.41,221.52 L439.43,221.30 L440.44,221.07 L441.46,220.83 L442.48,220.58 L443.50,220.32 L444.51,220.05 L445.53,219.77 L446.55,219.48 L447.57,219.17 L448.58,218.85 L449.60,218.52 L450.62,218.17 L451.64,217.80 L452.65,217.42 L453.67,217.03 L454.69,216.61 L455.71,216.18 L456.73,215.73 L457.74,215.25 L458.76,214.76 L459.78,214.24 L460.80,213.70 L461.81,213.13 L462.83,212.54 L463.85,211.92 L464.87,211.28 L465.88,210.60 L466.90,209.89 L467.92,209.16 L468.94,208.38 L469.95,207.58 L470.97,206.74 L471.99,205.86 L473.00,204.95 L474.02,204.00 L475.04,203.01 L476.06,201.98 L477.07,200.91 L478.09,199.79 L479.11,198.64 L480.13,197.44 L481.14,196.20 L482.16,194.91 L483.18,193.59 L484.20,192.22 L485.22,190.80 L486.23,189.35 L487.25,187.85 L488.27,186.32 L489.28,184.74 L490.30,183.13 L491.32,181.48 L492.34,179.80 L493.36,178.09 L494.37,176.35 L495.39,174.58 L496.41,172.79 L497.42,170.99 L498.44,169.17 L499.46,167.34 L500.48,165.50 L501.50,163.66 L502.51,161.83 L503.53,160.00 L504.55,158.19 L505.56,156.39 L506.58,154.62 L507.60,152.88 L508.62,151.18 L509.63,149.52 L510.65,147.91 L511.67,146.35 L512.69,144.86 L513.71,143.42 L514.72,142.06 L515.74,140.78 L516.76,139.57 L517.77,138.46 L518.79,137.43 L519.81,136.50 L520.83,135.67 L521.85,134.95 L522.86,134.33 L523.88,133.82 L524.90,133.42 L525.91,133.13 L526.93,132.96 L527.95,132.90 L528.97,132.96 L529.99,133.13 L531.00,133.42 L532.02,133.82 L533.04,134.33 L534.06,134.95 L535.07,135.67 L536.09,136.50 L537.11,137.43 L538.12,138.46 L539.14,139.57 L540.16,140.78 L541.18,142.06 L542.19,143.42 L543.21,144.86 L544.23,146.35 L545.25,147.91 L546.26,149.52 L547.28,151.18 L548.30,152.88 L549.32,154.62 L550.34,156.39 L551.35,158.19 L552.37,160.00 L553.39,161.83 L554.40,163.66 L555.42,165.50 L556.44,167.34 L557.46,169.17 L558.48,170.99 L559.49,172.79 L560.51,174.58 L561.53,176.35 L562.55,178.09 L563.56,179.80 L564.58,181.48 L565.60,183.13 L566.62,184.74 L567.63,186.32 L568.65,187.85 L569.67,189.35 L570.68,190.80 L571.70,192.22 L572.72,193.59 L573.74,194.91 L574.75,196.20 L575.77,197.44 L576.79,198.64 L577.81,199.79 L578.83,200.91 L579.84,201.98 L580.86,203.01 L581.88,204.00 L582.89,204.95 L583.91,205.86 L584.93,206.74 L585.95,207.58 L586.96,208.38 L587.98,209.16 L589.00,209.89 L590.02,210.60 L591.03,211.28 L592.05,211.92 L593.07,212.54 L594.09,213.13 L595.11,213.70 L596.12,214.24 L597.14,214.76 L598.16,215.25 L599.17,215.73 L600.19,216.18 L601.21,216.61 L602.23,217.03 L603.25,217.42 L604.26,217.80 L605.28,218.17 L606.30,218.52 L607.32,218.85 L608.33,219.17 L609.35,219.48 L610.37,219.77 L611.38,220.05 L612.40,220.32 L613.42,220.58 L614.44,220.83 L615.45,221.07 L616.47,221.30 L617.49,221.52 L618.51,221.74 L619.52,221.94 L620.54,222.14 L621.56,222.33 L622.58,222.52 L623.60,222.69 L624.61,222.86 L625.63,223.03 L626.65,223.19 L627.66,223.34 L628.68,223.49 L629.70,223.63 L630.72,223.77 L631.74,223.91 L632.75,224.04 L633.77,224.16 L634.79,224.28 L635.80,224.40 L636.82,224.52 L637.84,224.63 L638.86,224.74 L639.88,224.84 L640.89,224.94 L641.91,225.04 L642.93,225.14 L643.94,225.23 L644.96,225.32 L645.98,225.41 L647.00,225.49 L648.01,225.57 L649.03,225.65 L650.05,225.73 L651.07,225.81 L652.09,225.88 L653.10,225.96 L654.12,226.03 L655.14,226.09 L656.15,226.16 L657.17,226.23 L658.19,226.29 L659.21,226.35 L660.22,226.41 L661.24,226.47 L662.26,226.53 L663.28,226.59 L664.30,226.64 L665.31,226.69 L666.33,226.75 L667.35,226.80 L668.37,226.85 L669.38,226.90 L670.40,226.94" stroke="#383838" stroke-width="1.0"/>
<path d="M385.50,224.20 L386.52,224.11 L387.53,224.03 L388.55,223.94 L389.57,223.86 L390.59,223.77 L391.61,223.67 L392.62,223.58 L393.64,223.49 L394.66,223.39 L395.68,223.29 L396.69,223.19 L397.71,223.08 L398.73,222.97 L399.75,222.87 L400.76,222.75 L401.78,222.64 L402.80,222.52 L403.81,222.40 L404.83,222.28 L405.85,222.16 L406.87,222.03 L407.88,221.90 L408.90,221.77 L409.92,221.63 L410.94,221.49 L411.95,221.34 L412.97,221.20 L413.99,221.05 L415.01,220.89 L416.02,220.73 L417.04,220.57 L418.06,220.41 L419.08,220.24 L420.10,220.06 L421.11,219.88 L422.13,219.70 L423.15,219.51 L424.17,219.32 L425.18,219.12 L426.20,218.92 L427.22,218.71 L428.24,218.49 L429.25,218.27 L430.27,218.05 L431.29,217.82 L432.31,217.58 L433.32,217.33 L434.34,217.08 L435.36,216.83 L436.38,216.56 L437.39,216.29 L438.41,216.01 L439.43,215.73 L440.44,215.43 L441.46,215.13 L442.48,214.82 L443.50,214.50 L444.51,214.18 L445.53,213.84 L446.55,213.49 L447.57,213.14 L448.58,212.78 L449.60,212.40 L450.62,212.02 L451.64,211.62 L452.65,211.22 L453.67,210.80 L454.69,210.37 L455.71,209.94 L456.73,209.49 L457.74,209.03 L458.76,208.55 L459.78,208.07 L460.80,207.57 L461.81,207.06 L462.83,206.54 L463.85,206.00 L464.87,205.46 L465.88,204.90 L466.90,204.32 L467.92,203.74 L468.94,203.14 L469.95,202.53 L470.97,201.90 L471.99,201.26 L473.00,200.61 L474.02,199.95 L475.04,199.27 L476.06,198.58 L477.07,197.88 L478.09,197.17 L479.11,196.45 L480.13,195.72 L481.14,194.97 L482.16,194.22 L483.18,193.46 L484.20,192.69 L485.22,191.91 L486.23,191.12 L487.25,190.33 L488.27,189.53 L489.28,188.73 L490.30,187.92 L491.32,187.12 L492.34,186.31 L493.36,185.50 L494.37,184.69 L495.39,183.88 L496.41,183.08 L497.42,182.28 L498.44,181.48 L499.46,180.70 L500.48,179.92 L501.50,179.16 L502.51,178.40 L503.53,177.66 L504.55,176.94 L505.56,176.23 L506.58,175.54 L507.60,174.87 L508.62,174.22 L509.63,173.59 L510.65,172.99 L511.67,172.42 L512.69,171.87 L513.71,171.34 L514.72,170.85 L515.74,170.39 L516.76,169.96 L517.77,169.57 L518.79,169.21 L519.81,168.88 L520.83,168.59 L521.85,168.34 L522.86,168.13 L523.88,167.95 L524.90,167.81 L525.91,167.71 L526.93,167.65 L527.95,167.63 L528.97,167.65 L529.99,167.71 L531.00,167.81 L532.02,167.95 L533.04,168.13 L534.06,168.34 L535.07,168.59 L536.09,168.88 L537.11,169.21 L538.12,169.57 L539.14,169.96 L540.16,170.39 L541.18,170.85 L542.19,171.34 L543.21,171.87 L544.23,172.42 L545.25,172.99 L546.26,173.59 L547.28,174.22 L548.30,174.87 L549.32,175.54 L550.34,176.23 L551.35,176.94 L552.37,177.66 L553.39,178.40 L554.40,179.16 L555.42,179.92 L556.44,180.70 L557.46,181.48 L558.48,182.28 L559.49,183.08 L560.51,183.88 L561.53,184.69 L562.55,185.50 L563.56,186.31 L564.58,187.12 L565.60,187.92 L566.62,188.73 L567.63,189.53 L568.65,190.33 L569.67,191.12 L570.68,191.91 L571.70,192.69 L572.72,193.46 L573.74,194.22 L574.75,194.97 L575.77,195.72 L576.79,196.45 L577.81,197.17 L578.83,197.88 L579.84,198.58 L580.86,199.27 L581.88,199.95 L582.89,200.61 L583.91,201.26 L584.93,201.90 L585.95,202.53 L586.96,203.14 L587.98,203.74 L589.00,204.32 L590.02,204.90 L591.03,205.46 L592.05,206.00 L593.07,206.54 L594.09,207.06 L595.11,207.57 L596.12,208.07 L597.14,208.55 L598.16,209.03 L599.17,209.49 L600.19,209.94 L601.21,210.37 L602.23,210.80 L603.25,211.22 L604.26,211.62 L605.28,212.02 L606.30,212.40 L607.32,212.78 L608.33,213.14 L609.35,213.49 L610.37,213.84 L611.38,214.18 L612.40,214.50 L613.42,214.82 L614.44,215.13 L615.45,215.43 L616.47,215.73 L617.49,216.01 L618.51,216.29 L619.52,216.56 L620.54,216.83 L621.56,217.08 L622.58,217.33 L623.60,217.58 L624.61,217.82 L625.63,218.05 L626.65,218.27 L627.66,218.49 L628.68,218.71 L629.70,218.92 L630.72,219.12 L631.74,219.32 L632.75,219.51 L633.77,219.70 L634.79,219.88 L635.80,220.06 L636.82,220.24 L637.84,220.41 L638.86,220.57 L639.88,220.73 L640.89,220.89 L641.91,221.05 L642.93,221.20 L643.94,221.34 L644.96,221.49 L645.98,221.63 L647.00,221.77 L648.01,221.90 L649.03,222.03 L650.05,222.16 L651.07,222.28 L652.09,222.40 L653.10,222.52 L654.12,222.64 L655.14,222.75 L656.15,222.87 L657.17,222.97 L658.19,223.08 L659.21,223.19 L660.22,223.29 L661.24,223.39 L662.26,223.49 L663.28,223.58 L664.30,223.67 L665.31,223.77 L666.33,223.86 L667.35,223.94 L668.37,224.03 L669.38,224.11 L670.40,224.20" stroke="#383838" stroke-width="1.1" stroke-dasharray="4.7 2.3"/>
</g>
<rect x="385.5" y="6.55" width="284.9" height="223.54999999999998" fill="none" stroke="#333333" stroke-width="1.15"/>
<line x1="405.85" x2="405.85" y1="230.1" y2="233.29999999999998" stroke="#333333" stroke-width="1"/>
<text transform="translate(405.85,244.7) scale(0.93,1.04)" font-size="11.8" fill="#2b2b2b" text-anchor="middle">−6</text>
<line x1="446.55" x2="446.55" y1="230.1" y2="233.29999999999998" stroke="#333333" stroke-width="1"/>
<text transform="translate(446.55,244.7) scale(0.93,1.04)" font-size="11.8" fill="#2b2b2b" text-anchor="middle">−4</text>
<line x1="487.25" x2="487.25" y1="230.1" y2="233.29999999999998" stroke="#333333" stroke-width="1"/>
<text transform="translate(487.25,244.7) scale(0.93,1.04)" font-size="11.8" fill="#2b2b2b" text-anchor="middle">−2</text>
<line x1="527.95" x2="527.95" y1="230.1" y2="233.29999999999998" stroke="#333333" stroke-width="1"/>
<text transform="translate(527.95,244.7) scale(0.93,1.04)" font-size="11.8" fill="#2b2b2b" text-anchor="middle">0</text>
<line x1="568.65" x2="568.65" y1="230.1" y2="233.29999999999998" stroke="#333333" stroke-width="1"/>
<text transform="translate(568.65,244.7) scale(0.93,1.04)" font-size="11.8" fill="#2b2b2b" text-anchor="middle">2</text>
<line x1="609.35" x2="609.35" y1="230.1" y2="233.29999999999998" stroke="#333333" stroke-width="1"/>
<text transform="translate(609.35,244.7) scale(0.93,1.04)" font-size="11.8" fill="#2b2b2b" text-anchor="middle">4</text>
<line x1="650.05" x2="650.05" y1="230.1" y2="233.29999999999998" stroke="#333333" stroke-width="1"/>
<text transform="translate(650.05,244.7) scale(0.93,1.04)" font-size="11.8" fill="#2b2b2b" text-anchor="middle">6</text>
<line x1="382.3" x2="385.5" y1="230.10" y2="230.10" stroke="#333333" stroke-width="1"/>
<text transform="translate(380.15,234.45) scale(0.93,1.04)" font-size="11.8" fill="#2b2b2b" text-anchor="end">0.0</text>
<line x1="382.3" x2="385.5" y1="183.53" y2="183.53" stroke="#333333" stroke-width="1"/>
<text transform="translate(380.15,187.88) scale(0.93,1.04)" font-size="11.8" fill="#2b2b2b" text-anchor="end">0.1</text>
<line x1="382.3" x2="385.5" y1="136.95" y2="136.95" stroke="#333333" stroke-width="1"/>
<text transform="translate(380.15,141.30) scale(0.93,1.04)" font-size="11.8" fill="#2b2b2b" text-anchor="end">0.2</text>
<line x1="382.3" x2="385.5" y1="90.38" y2="90.38" stroke="#333333" stroke-width="1"/>
<text transform="translate(380.15,94.73) scale(0.93,1.04)" font-size="11.8" fill="#2b2b2b" text-anchor="end">0.3</text>
<line x1="382.3" x2="385.5" y1="43.81" y2="43.81" stroke="#333333" stroke-width="1"/>
<text transform="translate(380.15,48.16) scale(0.93,1.04)" font-size="11.8" fill="#2b2b2b" text-anchor="end">0.4</text>
<text transform="translate(496.97,261.80) scale(1.2,1.0)" font-size="13.3" fill="#2b2b2b">ε</text>
<text transform="translate(504.74,265.10) scale(0.88,1.08)" font-size="11.7" fill="#2b2b2b">tot</text>
<text transform="translate(520.65,261.90) scale(1.0,1.03)" font-size="13.89" fill="#2b2b2b">/</text>
<text transform="translate(530.67,261.90) scale(0.97,1.06)" font-size="13.89" fill="#2b2b2b">10</text>
<text transform="translate(552.50,254.80) scale(1.05,1.0)" font-size="10.8" fill="#2b2b2b">5</text>
<path d="M546.65,251.66 h5.83" stroke="#2b2b2b" stroke-width="0.76" fill="none"/>
<g transform="translate(358.55,141.6) rotate(-90)">
<text x="-0.16" y="0.00" font-size="11.6" fill="#2b2b2b" stroke="#2b2b2b" stroke-width="0.3">π</text>
<text transform="translate(7.59,3.80) scale(1.6,1.0)" font-size="8.5" fill="#2b2b2b">ε</text>
<text x="14.17" y="6.50" font-size="6.4" fill="#2b2b2b">tot</text>
</g>
<text transform="translate(397.08,23.80) scale(1.03,1.08)" font-size="14.2" fill="#2b2b2b">B/B</text>
<text x="420.98" y="26.90" font-size="11.7" fill="#2b2b2b">0</text>
<text x="391.91" y="40.70" font-size="11.11" fill="#2b2b2b">σ</text>
<text x="398.54" y="42.30" font-size="7.78" fill="#2b2b2b">obs</text>
<path d="M414.15,38.87 h6.00 M414.15,36.14 h6.00" stroke="#2b2b2b" stroke-width="0.78" fill="none"/>
<text x="422.86" y="40.70" font-size="11.11" fill="#2b2b2b">1</text>
<path d="M431.65,34.92 L437.09,40.37 M431.65,40.37 L437.09,34.92" stroke="#2b2b2b" stroke-width="0.98" fill="none"/>
<text x="439.46" y="40.70" font-size="11.11" fill="#2b2b2b">10</text>
<text x="451.76" y="35.50" font-size="7.78" fill="#2b2b2b">−5</text>
<line x1="468.85" x2="493.45" y1="20.6" y2="20.6" stroke="#A0B2D8" stroke-width="2.2"/>
<line x1="468.85" x2="493.45" y1="33.4" y2="33.4" stroke="#A0B2D8" stroke-width="2.2" stroke-dasharray="15 6.2"/>
<line x1="468.85" x2="493.45" y1="46.45" y2="46.45" stroke="#383838" stroke-width="1.0"/>
<line x1="468.85" x2="493.45" y1="59.6" y2="59.6" stroke="#383838" stroke-width="1.1" stroke-dasharray="4.7 2.3"/>
<text x="500.71" y="24.00" font-size="11.11" fill="#2b2b2b">B</text>
<text x="511.60" y="24.00" font-size="11.11" fill="#2b2b2b">:</text>
<text x="517.82" y="24.00" font-size="11.11" fill="#2b2b2b">β</text>
<text x="524.07" y="25.60" font-size="7.78" fill="#2b2b2b" font-style="italic">sys</text>
<path d="M538.50,22.17 h6.00 M538.50,19.44 h6.00" stroke="#2b2b2b" stroke-width="0.78" fill="none"/>
<text x="546.51" y="24.00" font-size="11.11" fill="#2b2b2b">1</text>
<path d="M555.20,18.22 L560.64,23.67 M555.20,23.67 L560.64,18.22" stroke="#2b2b2b" stroke-width="0.98" fill="none"/>
<text x="564.41" y="24.00" font-size="11.11" fill="#2b2b2b">10</text>
<text x="576.01" y="18.80" font-size="7.78" fill="#2b2b2b">−5</text>
<text x="583.70" y="24.00" font-size="11.11" fill="#2b2b2b">,</text>
<text x="589.96" y="24.00" font-size="11.11" fill="#2b2b2b">σ</text>
<text x="596.77" y="25.60" font-size="7.78" fill="#2b2b2b" font-style="italic">sys</text>
<path d="M611.20,22.17 h6.00 M611.20,19.44 h6.00" stroke="#2b2b2b" stroke-width="0.78" fill="none"/>
<text x="619.61" y="24.00" font-size="11.11" fill="#2b2b2b">1</text>
<path d="M628.20,18.22 L633.64,23.67 M628.20,23.67 L633.64,18.22" stroke="#2b2b2b" stroke-width="0.98" fill="none"/>
<text x="637.11" y="24.00" font-size="11.11" fill="#2b2b2b">10</text>
<text x="648.61" y="18.80" font-size="7.78" fill="#2b2b2b">−5</text>
<text x="500.71" y="36.30" font-size="11.11" fill="#2b2b2b">B</text>
<text x="511.60" y="36.30" font-size="11.11" fill="#2b2b2b">:</text>
<text x="517.82" y="36.30" font-size="11.11" fill="#2b2b2b">β</text>
<text x="524.07" y="37.90" font-size="7.78" fill="#2b2b2b" font-style="italic">sys</text>
<path d="M538.50,34.47 h6.00 M538.50,31.74 h6.00" stroke="#2b2b2b" stroke-width="0.78" fill="none"/>
<path d="M547.10,32.97 h6.00" stroke="#2b2b2b" stroke-width="0.78" fill="none"/>
<text x="554.61" y="36.30" font-size="11.11" fill="#2b2b2b">1</text>
<path d="M563.80,30.52 L569.24,35.97 M563.80,35.97 L569.24,30.52" stroke="#2b2b2b" stroke-width="0.98" fill="none"/>
<text x="572.41" y="36.30" font-size="11.11" fill="#2b2b2b">10</text>
<text x="583.91" y="31.10" font-size="7.78" fill="#2b2b2b">−5</text>
<text x="591.70" y="36.30" font-size="11.11" fill="#2b2b2b">,</text>
<text x="597.66" y="36.30" font-size="11.11" fill="#2b2b2b">σ</text>
<text x="604.47" y="37.90" font-size="7.78" fill="#2b2b2b" font-style="italic">sys</text>
<path d="M619.00,34.47 h6.00 M619.00,31.74 h6.00" stroke="#2b2b2b" stroke-width="0.78" fill="none"/>
<text x="626.94" y="36.30" font-size="11.11" fill="#2b2b2b">2</text>
<path d="M636.50,30.52 L641.94,35.97 M636.50,35.97 L641.94,30.52" stroke="#2b2b2b" stroke-width="0.98" fill="none"/>
<text x="645.11" y="36.30" font-size="11.11" fill="#2b2b2b">10</text>
<text x="656.61" y="31.10" font-size="7.78" fill="#2b2b2b">−5</text>
<text x="500.71" y="49.60" font-size="11.11" fill="#2b2b2b">B</text>
<text x="509.09" y="52.40" font-size="7.78" fill="#2b2b2b">0</text>
<text x="515.60" y="49.60" font-size="11.11" fill="#2b2b2b">:</text>
<text x="521.92" y="49.60" font-size="11.11" fill="#2b2b2b">β</text>
<text x="528.17" y="51.20" font-size="7.78" fill="#2b2b2b" font-style="italic">sys</text>
<path d="M542.80,47.77 h6.00 M542.80,45.04 h6.00" stroke="#2b2b2b" stroke-width="0.78" fill="none"/>
<text x="551.36" y="49.60" font-size="11.11" fill="#2b2b2b">0</text>
<text x="556.70" y="49.60" font-size="11.11" fill="#2b2b2b">,</text>
<text x="562.66" y="49.60" font-size="11.11" fill="#2b2b2b">σ</text>
<text x="569.67" y="51.20" font-size="7.78" fill="#2b2b2b" font-style="italic">sys</text>
<path d="M584.40,47.77 h6.00 M584.40,45.04 h6.00" stroke="#2b2b2b" stroke-width="0.78" fill="none"/>
<text x="592.41" y="49.60" font-size="11.11" fill="#2b2b2b">1</text>
<path d="M601.30,43.82 L606.74,49.27 M601.30,49.27 L606.74,43.82" stroke="#2b2b2b" stroke-width="0.98" fill="none"/>
<text x="609.91" y="49.60" font-size="11.11" fill="#2b2b2b">10</text>
<text x="621.31" y="44.40" font-size="7.78" fill="#2b2b2b">−5</text>
<text x="500.71" y="62.60" font-size="11.11" fill="#2b2b2b">B</text>
<text x="509.09" y="65.40" font-size="7.78" fill="#2b2b2b">0</text>
<text x="515.60" y="62.60" font-size="11.11" fill="#2b2b2b">:</text>
<text x="521.92" y="62.60" font-size="11.11" fill="#2b2b2b">β</text>
<text x="528.17" y="64.20" font-size="7.78" fill="#2b2b2b">sys</text>
<path d="M542.80,60.77 h6.00 M542.80,58.04 h6.00" stroke="#2b2b2b" stroke-width="0.78" fill="none"/>
<text x="551.36" y="62.60" font-size="11.11" fill="#2b2b2b">0</text>
<text x="556.70" y="62.60" font-size="11.11" fill="#2b2b2b">,</text>
<text x="562.66" y="62.60" font-size="11.11" fill="#2b2b2b">σ</text>
<text x="569.67" y="64.20" font-size="7.78" fill="#2b2b2b">sys</text>
<path d="M584.40,60.77 h6.00 M584.40,58.04 h6.00" stroke="#2b2b2b" stroke-width="0.78" fill="none"/>
<text x="592.34" y="62.60" font-size="11.11" fill="#2b2b2b">2</text>
<path d="M601.30,56.82 L606.74,62.27 M601.30,62.27 L606.74,56.82" stroke="#2b2b2b" stroke-width="0.98" fill="none"/>
<text x="609.91" y="62.60" font-size="11.11" fill="#2b2b2b">10</text>
<text x="621.31" y="57.40" font-size="7.78" fill="#2b2b2b">−5</text>
</svg>
</body></html>
